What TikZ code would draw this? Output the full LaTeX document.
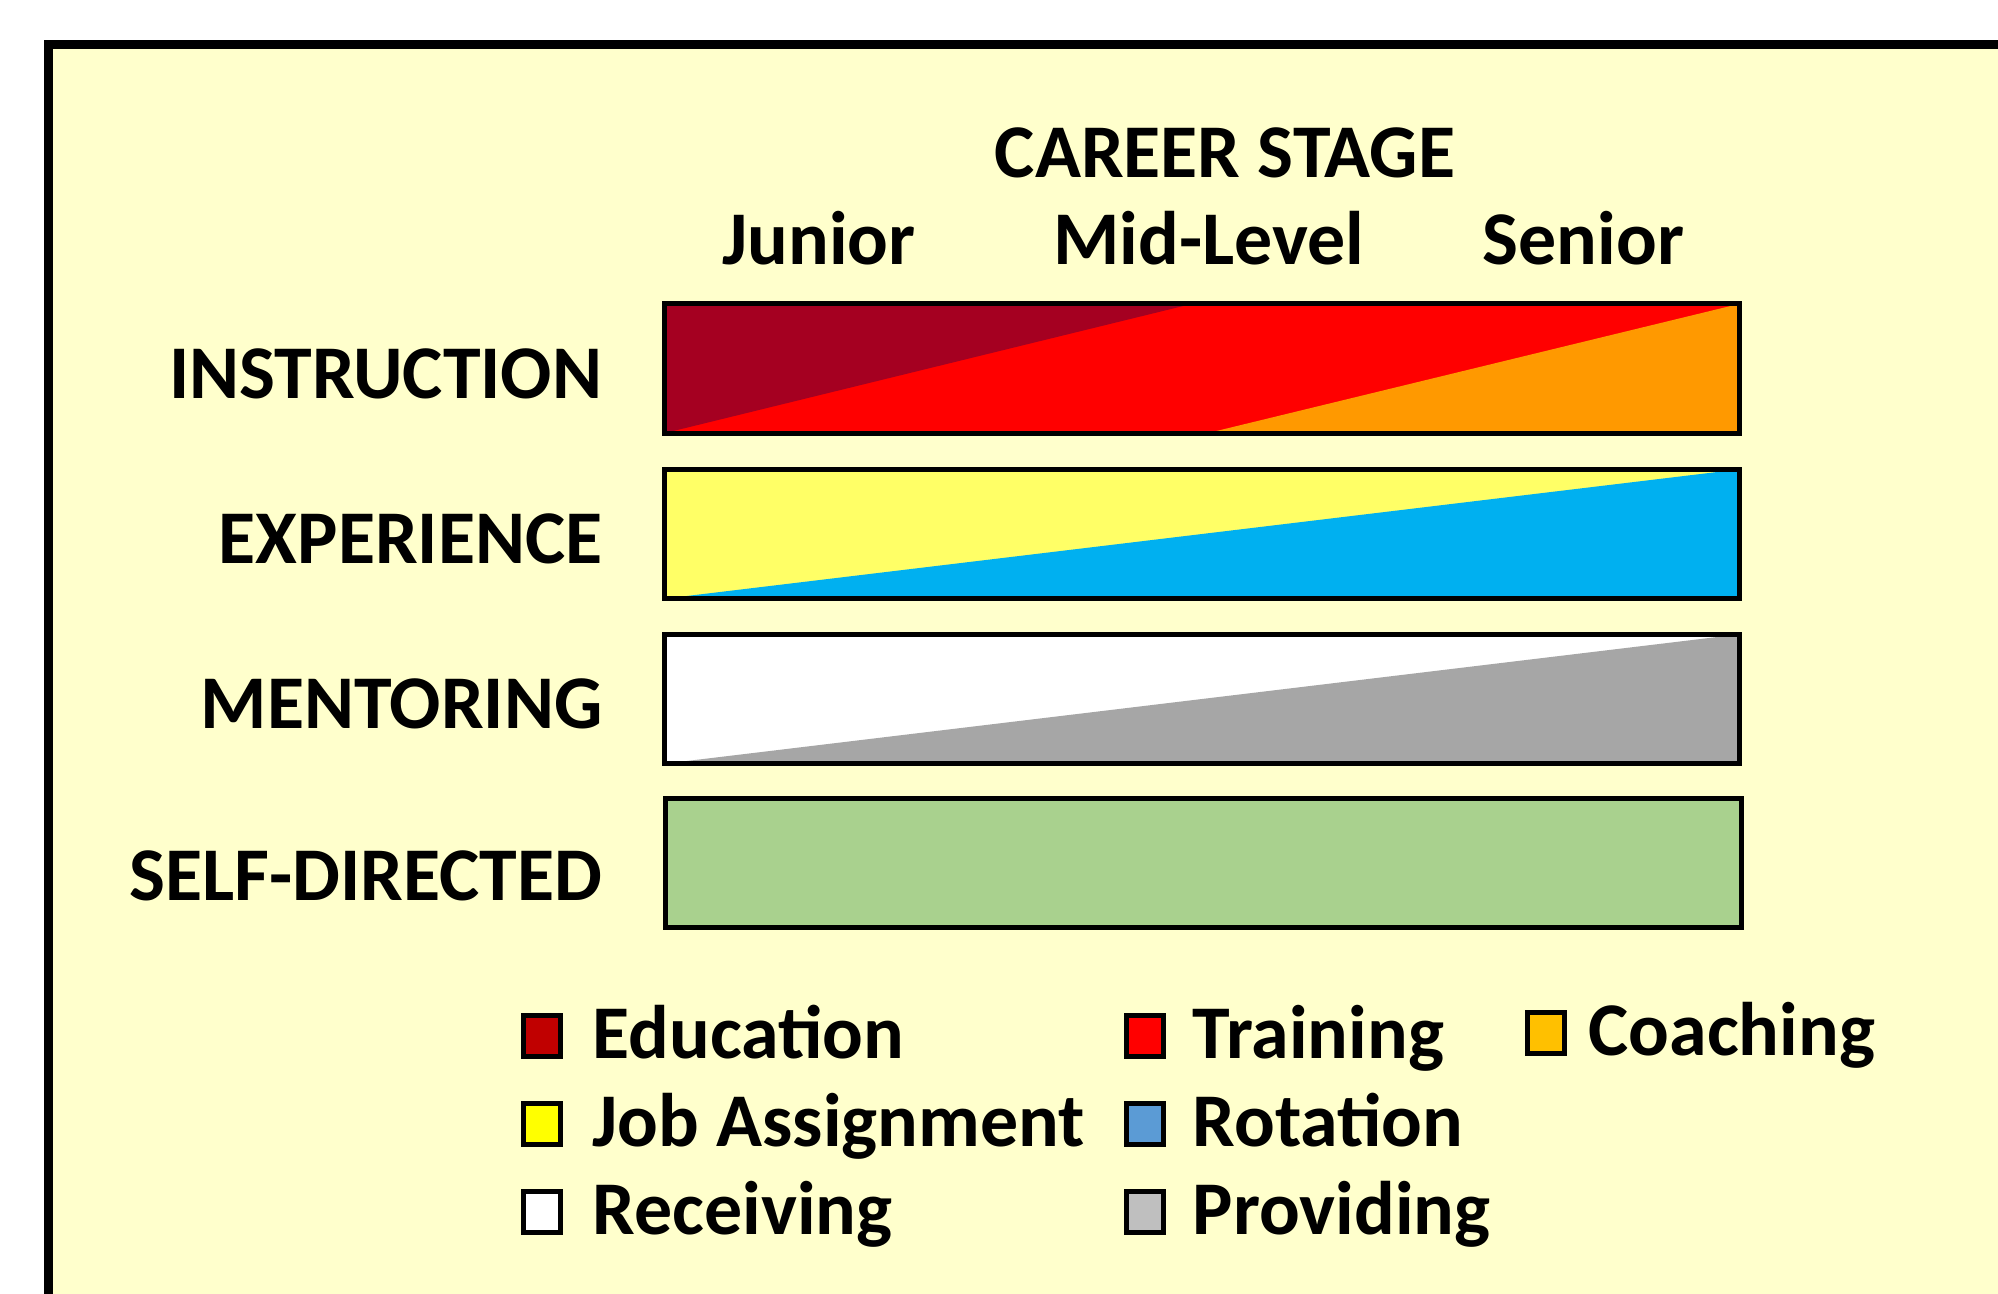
\documentclass[tikz,border=0pt]{standalone}
\usepackage{fontspec}
\setmainfont{Carlito}
\usetikzlibrary{positioning, calc}

\definecolor{paper}{RGB}{255,255,204}
\definecolor{edured}{RGB}{165,0,33}
\definecolor{trainred}{RGB}{255,0,0}
\definecolor{coachorange}{RGB}{255,153,0}
\definecolor{jobyellow}{RGB}{255,255,102}
\definecolor{rotblue}{RGB}{0,176,240}
\definecolor{provgray}{RGB}{166,166,166}
\definecolor{selfgreen}{RGB}{169,209,142}
% legend swatches
\definecolor{keyedu}{RGB}{192,0,0}
\definecolor{keycoach}{RGB}{255,192,0}
\definecolor{keyjob}{RGB}{255,255,0}
\definecolor{keyrot}{RGB}{91,155,213}
\definecolor{keyprov}{RGB}{191,191,191}

\tikzset{
  lbl/.style={font=\fontsize{21.6}{26}\selectfont\bfseries, inner sep=0pt},
  bar/.style={minimum width=10.74cm, minimum height=1.28cm, inner sep=0pt},
  rim/.style={line width=0.05cm},
  key/.style={draw, line width=0.05cm, minimum width=0.37cm,
              minimum height=0.41cm, inner sep=0pt},
}

\begin{document}
\begin{tikzpicture}

  \useasboundingbox (0,0) rectangle (19.98,-12.94);
  \clip (0,0) rectangle (19.98,-12.94);
  \fill[white] (0,0) rectangle (19.98,-12.94);

  % ─── panel ─────────────────────────────────────────────────────────
  \draw[line width=0.09cm, fill=paper] (0.485,-0.445) rectangle (21,-14);

  % ─── header ────────────────────────────────────────────────────────
  \node[lbl, anchor=base] (stage)  at (12.25,-1.78) {CAREER STAGE};
  \node[lbl, anchor=base] (junior) at (8.19,-2.65)  {Junior};
  \node[lbl, anchor=base] (mid)    at (12.09,-2.65) {Mid-Level};
  \node[lbl, anchor=base] (senior) at (15.835,-2.65) {Senior};

  % ─── instruction: education -> training -> coaching ────────────────
  \node[bar, fill=trainred] (instr) at (12.02,-3.685) {};
  \fill[edured] (instr.south west) -- (instr.north west)
    -- ($(instr.north west)!0.491!(instr.north east)$) -- cycle;
  \fill[coachorange] ($(instr.south west)!0.505!(instr.south east)$)
    -- (instr.south east) -- (instr.north east) -- cycle;
  \draw[rim] (instr.south west) rectangle (instr.north east);
  \node[lbl, anchor=base east] (instrlbl) at (6.03,-3.99) {INSTRUCTION};

  % ─── experience: job assignment -> rotation ────────────────────────
  \node[bar, fill=jobyellow] (exper) at (12.02,-5.34) {};
  \fill[rotblue] (exper.south west) -- (exper.south east) -- (exper.north east) -- cycle;
  \draw[rim] (exper.south west) rectangle (exper.north east);
  \node[lbl, anchor=base east] (experlbl) at (6.03,-5.63) {EXPERIENCE};

  % ─── mentoring: receiving -> providing ─────────────────────────────
  \node[bar, fill=white] (mentor) at (12.02,-6.99) {};
  \fill[provgray] (mentor.south west) -- (mentor.south east) -- (mentor.north east) -- cycle;
  \draw[rim] (mentor.south west) rectangle (mentor.north east);
  \node[lbl, anchor=base east] (mentorlbl) at (6.03,-7.28) {MENTORING};

  % ─── self-directed ─────────────────────────────────────────────────
  \node[bar, fill=selfgreen] (selfdir) at (12.035,-8.63) {};
  \draw[rim] (selfdir.south west) rectangle (selfdir.north east);
  \node[lbl, anchor=base east] (selflbl) at (6.03,-9.00) {SELF-DIRECTED};

  % ─── legend ────────────────────────────────────────────────────────
  \node[key, fill=keyedu]   (kedu)   at (5.42,-10.36)  {};
  \node[key, fill=trainred] (ktrain) at (11.45,-10.36) {};
  \node[key, fill=keycoach] (kcoach) at (15.455,-10.33) {};
  \node[lbl, anchor=base west] (tedu)   at (5.92,-10.58)  {Education};
  \node[lbl, anchor=base west] (ttrain) at (11.92,-10.58) {Training};
  \node[lbl, anchor=base west] (tcoach) at (15.88,-10.55) {Coaching};

  \node[key, fill=keyjob] (kjob) at (5.42,-11.24)  {};
  \node[key, fill=keyrot] (krot) at (11.45,-11.24) {};
  \node[lbl, anchor=base west] (tjob) at (5.92,-11.46)  {Job Assignment};
  \node[lbl, anchor=base west] (trot) at (11.92,-11.46) {Rotation};

  \node[key, fill=white]   (krec)  at (5.42,-12.12)  {};
  \node[key, fill=keyprov] (kprov) at (11.45,-12.12) {};
  \node[lbl, anchor=base west] (trec)  at (5.92,-12.34)  {Receiving};
  \node[lbl, anchor=base west] (tprov) at (11.92,-12.34) {Providing};

\end{tikzpicture}
\end{document}
